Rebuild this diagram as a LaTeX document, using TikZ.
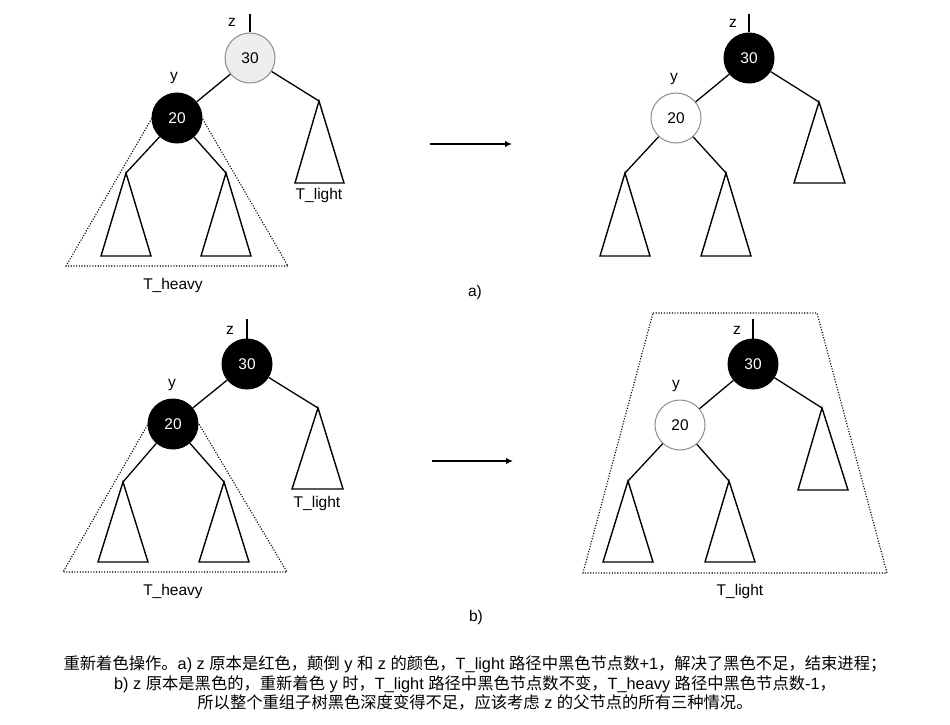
\documentclass[tikz,border=0pt]{standalone}
\usepackage{fontspec}
\setmainfont{Liberation Sans}
\newfontfamily\cjk{Noto Sans CJK SC}
\usepackage{tikz}
\usetikzlibrary{arrows.meta}
\definecolor{nodegray}{HTML}{EEEEEE}
\definecolor{rimgray}{HTML}{8C8C8C}

\begin{document}
\begin{tikzpicture}[x=1pt,y=-1pt,line width=1.3pt,
  font=\fontsize{15.5}{18}\selectfont,
  rb/.style={circle,draw=rimgray,line width=1pt,minimum size=50pt,inner sep=0pt},
  blk/.style={rb,fill=black,draw=black,text=white},
  wht/.style={rb,fill=white},
  lgt/.style={rb,fill=nodegray},
  dots/.style={line width=1.1pt,dash pattern=on 1.1pt off 1.6pt},
  sub/.style={line width=1.4pt}]
  \useasboundingbox (0,0) rectangle (950,725);

  \draw (152,118) -- (202,118) -- (288,266) -- (66,266) -- cycle[dots];
  \node[lgt] (a30) at (250,58) {30};
  \node[blk] (a20) at (177,118) {20};
  \node (az) at (232,22) {z};
  \node (ay) at (174,78) {y};
  \coordinate (atop) at (250,14);
  \coordinate (atl) at (319,101);
  \coordinate (all) at (126,173);
  \coordinate (alr) at (226,173);
  \draw (atop) -- (a30.north);
  \draw (a30) -- (a20);
  \draw (a30) -- (atl);
  \draw (a20) -- (all);
  \draw (a20) -- (alr);
  \draw[sub] (atl) -- (344,183) -- (295,183) -- cycle;
  \draw[sub] (all) -- (151,256) -- (101,256) -- cycle;
  \draw[sub] (alr) -- (251,256) -- (201,256) -- cycle;
  \node (alight) at (319,195) {T\_light};
  \node (aheavy) at (173,285) {T\_heavy};

  \node[blk] (c30) at (749,58) {30};
  \node[wht] (c20) at (676,118) {20};
  \node (cz) at (733,23) {z};
  \node (cy) at (674,79) {y};
  \coordinate (ctop) at (749,14);
  \coordinate (ctl) at (819,102);
  \coordinate (cll) at (625,173);
  \coordinate (clr) at (726,173);
  \draw (ctop) -- (c30.north);
  \draw (c30) -- (c20);
  \draw (c30) -- (ctl);
  \draw (c20) -- (cll);
  \draw (c20) -- (clr);
  \draw[sub] (ctl) -- (845,183) -- (794,183) -- cycle;
  \draw[sub] (cll) -- (650,256) -- (600,256) -- cycle;
  \draw[sub] (clr) -- (751,256) -- (701,256) -- cycle;

  \coordinate (aarr1) at (430,144);
  \coordinate (aarr2) at (512,144);
  \draw[line width=1.2pt,-{Latex[length=7pt,width=6.5pt]}] (aarr1) -- (aarr2);
  \node (alab) at (475,292) {a)};

  \draw (148,424) -- (199,424) -- (287,572) -- (63,572) -- cycle[dots];
  \node[blk] (b30) at (247,364) {30};
  \node[blk] (b20) at (173,424) {20};
  \node (bz) at (230,330) {z};
  \node (by) at (172,385) {y};
  \coordinate (btop) at (247,319);
  \coordinate (btl) at (318,408);
  \coordinate (bll) at (123,482);
  \coordinate (blr) at (224,482);
  \draw (btop) -- (b30.north);
  \draw (b30) -- (b20);
  \draw (b30) -- (btl);
  \draw (b20) -- (bll);
  \draw (b20) -- (blr);
  \draw[sub] (btl) -- (343,489) -- (292,489) -- cycle;
  \draw[sub] (bll) -- (148,562) -- (98,562) -- cycle;
  \draw[sub] (blr) -- (249,562) -- (199,562) -- cycle;
  \node (blight) at (317,503) {T\_light};
  \node (bheavy) at (173,591) {T\_heavy};

  \draw (653,313) -- (817,313) -- (887,573) -- (583,573) -- cycle[dots];
  \node[blk] (d30) at (753,364) {30};
  \node[wht] (d20) at (680,425) {20};
  \node (dz) at (737,330) {z};
  \node (dy) at (676,386) {y};
  \coordinate (dtop) at (753,319);
  \coordinate (dtl) at (822,408);
  \coordinate (dll) at (628,481);
  \coordinate (dlr) at (729,481);
  \draw (dtop) -- (d30.north);
  \draw (d30) -- (d20);
  \draw (d30) -- (dtl);
  \draw (d20) -- (dll);
  \draw (d20) -- (dlr);
  \draw[sub] (dtl) -- (848,490) -- (798,490) -- cycle;
  \draw[sub] (dll) -- (653,562) -- (603,562) -- cycle;
  \draw[sub] (dlr) -- (755,562) -- (705,562) -- cycle;
  \node (dlight) at (740,591) {T\_light};

  \coordinate (barr1) at (432,461);
  \coordinate (barr2) at (513,461);
  \draw[line width=1.2pt,-{Latex[length=7pt,width=6.5pt]}] (barr1) -- (barr2);
  \node (blab) at (476,617) {b)};

  \node[align=center,font=\fontsize{16.3}{19.5}\selectfont] (note) at (475,683)
  {{\cjk 重新着色操作。}a) z {\cjk 原本是红色，颠倒} y {\cjk 和} z {\cjk 的颜色，}T\_light {\cjk 路径中黑色节点数}+1{\cjk ，解决了黑色不足，结束进程；}\\
   b) z {\cjk 原本是黑色的，重新着色} y {\cjk 时，}T\_light {\cjk 路径中黑色节点数不变，}T\_heavy {\cjk 路径中黑色节点数}-1{\cjk ，}\\
   {\cjk 所以整个重组子树黑色深度变得不足，应该考虑} z {\cjk 的父节点的所有三种情况。}};
\end{tikzpicture}
\end{document}
